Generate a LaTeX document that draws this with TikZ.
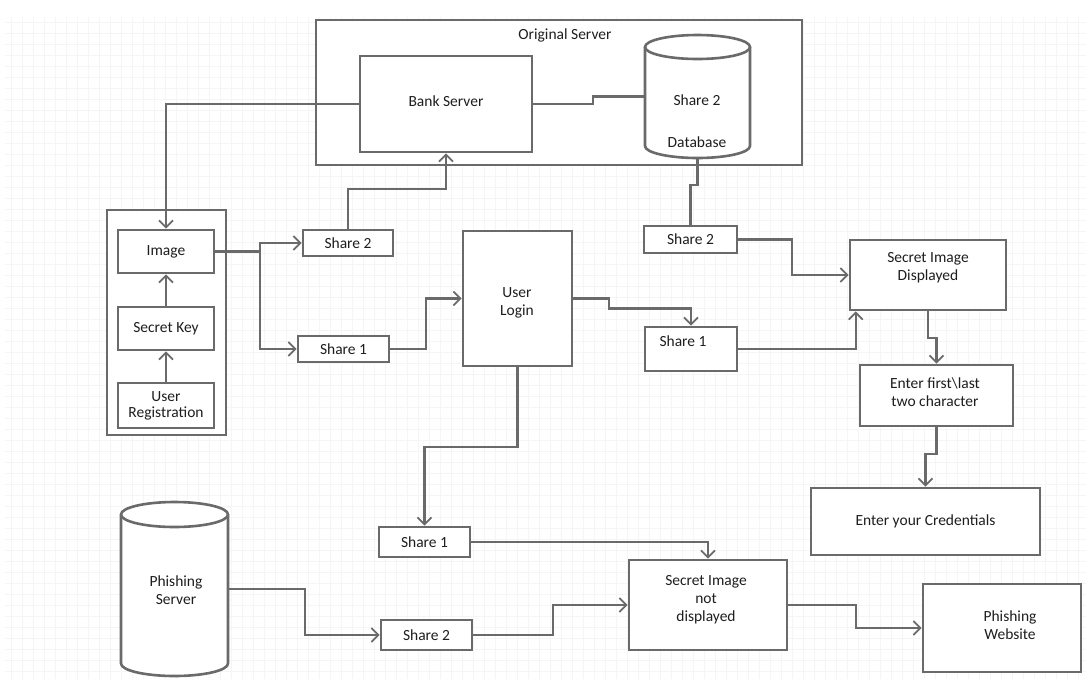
\documentclass[tikz,border=0pt]{standalone}
\usepackage{fontspec}
\setmainfont{Carlito}
\usetikzlibrary{arrows.meta}
\definecolor{lg}{HTML}{6A6A6A}
\definecolor{tx}{HTML}{1E1E1E}
\begin{document}
\begin{tikzpicture}[x=1pt,y=-1pt,
  box/.style={draw=lg,line width=2.6pt,fill=white,text=tx,align=center,inner sep=2pt,
    font=\fontsize{15.5}{18}\selectfont},
  lbl/.style={text=tx,align=center,inner sep=0pt,font=\fontsize{15.5}{18}\selectfont},
  ghost/.style={inner sep=0pt},
  conn/.style={draw=lg,line width=2.2pt},
  arr/.style={conn,-{Straight Barb[length=7pt,width=14pt,line width=1.8pt]}},
  cyl/.style={draw=lg,line width=2.6pt,fill=white}]
\useasboundingbox (0,0) rectangle (1088,681);
\fill[white] (0,0) rectangle (1088,681);
% faint grid
\draw[black!4,line width=0.8pt,step=11pt] (5,17) grid (1086,679);

% Original server frame
\node[box,minimum width=486,minimum height=145] (orig) at (559,92.5) {};
\node[lbl] (origl) at (565,35) {Original Server};
\node[box,minimum width=172,minimum height=96] (bank) at (446,104) {};
\node[lbl] (bankl) at (446,101) {Bank Server};

% database cylinder
\node[ghost,minimum width=105,minimum height=123] (db) at (697.5,96.5) {};
\path[cyl] (645,47) -- (645,146) .. controls (645,152.6) and (668.5,158) .. (697.5,158)
  .. controls (726.5,158) and (750,152.6) .. (750,146) -- (750,47);
\draw[cyl] (697.5,47) ellipse [x radius=52.5, y radius=12];
\node[lbl] (dbs) at (697,100) {Share 2};
\node[lbl] (dbd) at (697,142) {Database};

% left group
\node[box,minimum width=119,minimum height=225] (grp) at (166.5,322.5) {};
\node[box,minimum width=96,minimum height=43] (img) at (166,251.5) {Image};
\node[box,minimum width=96,minimum height=43] (key) at (166,328.5) {Secret Key};
\node[box,minimum width=96,minimum height=45,inner sep=0pt] (reg) at (166,405.5) {User\\[-2pt]Registration};

\node[box,minimum width=90,minimum height=26] (s2a) at (348,243) {Share 2};
\node[box,minimum width=91,minimum height=26] (s1a) at (343.5,349) {Share 1};
\node[box,minimum width=109,minimum height=135] (login) at (517.5,298.5) {};
\node[lbl] (loginl) at (517,303) {User\\Login};

\node[box,minimum width=93,minimum height=27] (s2b) at (690.5,239.5) {Share 2};
\node[box,minimum width=92,minimum height=44] (s1b) at (691,349) {};
\node[lbl] (s1bl) at (683,341) {Share 1};
\node[box,minimum width=156,minimum height=70] (sid) at (928,275) {};
\node[lbl] (sidl) at (928,268) {Secret Image\\Displayed};
\node[box,minimum width=153,minimum height=61] (enter1) at (936.5,395.5) {};
\node[lbl] (enter1l) at (935,392) {Enter first\textbackslash last\\two character};
\node[box,minimum width=229,minimum height=67] (cred) at (925.5,521.5) {Enter your Credentials};

\node[box,minimum width=91,minimum height=30] (s1c) at (424.5,542) {Share 1};
\node[box,minimum width=158,minimum height=90] (sind) at (708,605) {};
\node[lbl] (sindl) at (706,600) {Secret Image\\not\\displayed};
\node[box,minimum width=91,minimum height=30] (s2c) at (426.5,635) {Share 2};
\node[box,minimum width=158,minimum height=88] (pw) at (1002,628) {};
\node[lbl] (pwl) at (1010,625) {Phishing\\Website};

% phishing server cylinder
\node[ghost,minimum width=107,minimum height=174] (phs) at (174.5,589) {};
\path[cyl] (121,514.5) -- (121,663.5) .. controls (121,670.4) and (145,676) .. (174.5,676)
  .. controls (204,676) and (228,670.4) .. (228,663.5) -- (228,514.5);
\draw[cyl] (174.5,514.5) ellipse [x radius=53.5, y radius=12.5];
\node[lbl] (phsl) at (176,590) {Phishing\\Server};

% connectors
\draw[arr] (bank.west) -| (img.north);
\draw[arr] (key.north) -- (img.south);
\draw[arr] (reg.north) -- (key.south);
\draw[arr] (img.east) -- ++(45,0) |- (s2a.west);
\draw[arr] (img.east) -- ++(45,0) |- (s1a.west);
\draw[arr] (s2a.north) -- ++(0,-40) -| (bank.south);
\draw[arr] (s1a.east) -- ++(36,0) |- (login.west);
\draw[conn] (bank.east) -- ++(60,0) |- (db.west);
\draw[conn] (db.south) -- ++(0,27) -| (s2b.north);
\draw[arr] (s2b.east) -- ++(54,0) |- (sid.west);
\draw[arr] (login.east) -- ++(36,0) -- ++(0,10) -| (s1b.north);
\draw[arr] (s1b.east) -| ([xshift=7pt]sid.south west);
\draw[arr] (sid.south) -- ++(0,27) -| (enter1.north);
\draw[arr] (enter1.south) -- ++(0,27) -| (cred.north);
\draw[arr] (login.south) -- ++(0,80) -| (s1c.north);
\draw[arr] (s1c.east) -| (sind.north);
\draw[arr] (phs.east) -- ++(77,0) |- (s2c.west);
\draw[arr] (s2c.east) -- ++(80,0) |- (sind.west);
\draw[arr] (sind.east) -- ++(68,0) |- (pw.west);
\end{tikzpicture}
\end{document}
